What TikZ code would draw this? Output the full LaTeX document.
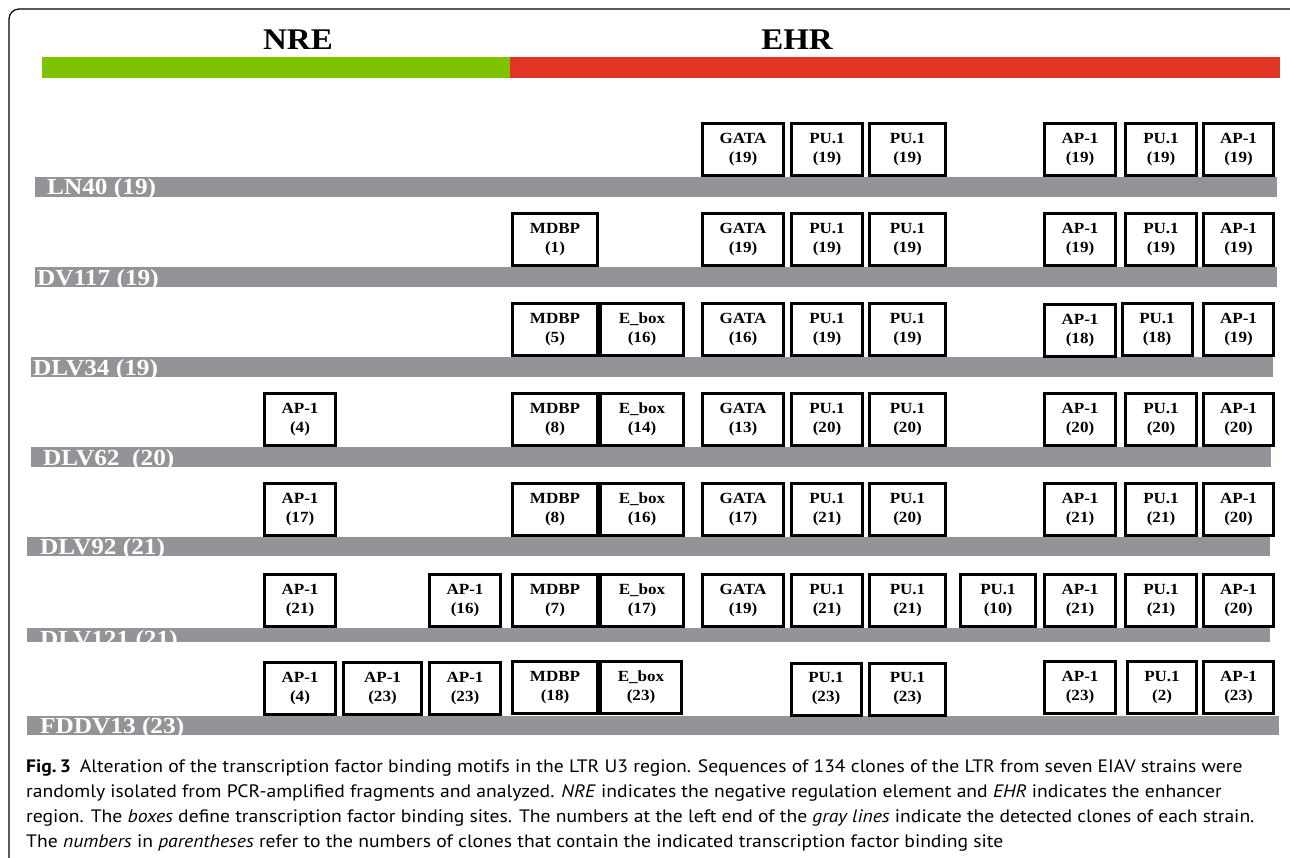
\documentclass[tikz,border=0pt]{standalone}
\usepackage{fontspec}
\usepackage{tikz}
\newfontfamily\figfont[FakeStretch=1.1]{Liberation Serif}
\newfontfamily\capfont[FakeStretch=1.09]{PT Sans}
\definecolor{nregreen}{RGB}{126,195,0}
\definecolor{ehrred}{RGB}{224,53,36}
\definecolor{strainbar}{RGB}{149,147,152}

\begin{document}
\begin{tikzpicture}[x=1pt,y=-1pt,
  site/.style={draw=black,line width=3pt,fill=white,inner sep=0pt,minimum height=52pt,align=center,
    font=\figfont\bfseries\fontsize{15.5}{19}\selectfont},
  strain/.style={text=white,inner sep=0pt,anchor=base west,font=\figfont\bfseries\fontsize{23}{23}\selectfont},
  region/.style={inner sep=0pt,anchor=base,font=\figfont\bfseries\fontsize{30}{30}\selectfont},
  capline/.style={inner sep=0pt,anchor=base west,font=\capfont\fontsize{18}{22}\selectfont}]
\useasboundingbox (0,0) rectangle (1290,858);
% frame
\draw [black,line width=1.2pt,rounded corners=10pt] (9,858) -- (9,9) -- (1290,9);
% regions
\node[region] (nre) at (298,50) {NRE};
\node[region] (ehr) at (797,50) {EHR};
\fill [nregreen] (42,57) rectangle (510,78);
\fill [ehrred] (510,57) rectangle (1280,78);
% strain lines
\fill [strainbar] (35,177) rectangle (1277,197);
\fill [strainbar] (35,267) rectangle (1277,287);
\fill [strainbar] (31,357) rectangle (1273,377);
\fill [strainbar] (31,447) rectangle (1271,467);
\fill [strainbar] (27,537) rectangle (1270,556);
\fill [strainbar] (27,628) rectangle (1270,642);
\fill [strainbar] (27,716) rectangle (1279,735);
\node[strain] (ln40) at (47,195) {LN40 (19)};
\node[strain] (dv117) at (37,286) {DV117 (19)};
\node[strain] (dlv34) at (33,375) {DLV34 (19)};
\node[strain] (dlv62) at (43,465) {DLV62\ \ (20)};
\node[strain] (dlv92) at (40,554) {DLV92 (21)};
\begin{scope}
\clip (27,628) rectangle (1270,642);
\node[strain] (dlv121) at (40,646) {DLV121 (21)};
\end{scope}
\node[strain] (fddv13) at (40,733) {FDDV13 (23)};
% LN40
\node[site,minimum width=81pt] (ln40gata) at (743,149.5) {GATA\\(19)};
\node[site,minimum width=71pt] (ln40pua) at (827,149.5) {PU.1\\(19)};
\node[site,minimum width=76pt] (ln40pub) at (907.5,149.5) {PU.1\\(19)};
\node[site,minimum width=71pt] (ln40apa) at (1080,149.5) {AP-1\\(19)};
\node[site,minimum width=71pt] (ln40puc) at (1161,149.5) {PU.1\\(19)};
\node[site,minimum width=70pt] (ln40apb) at (1238.5,149.5) {AP-1\\(19)};
% DV117
\node[site,minimum width=85pt] (dv117mdbp) at (555,239.5) {MDBP\\(1)};
\node[site,minimum width=81pt] (dv117gata) at (743,239.5) {GATA\\(19)};
\node[site,minimum width=71pt] (dv117pua) at (827,239.5) {PU.1\\(19)};
\node[site,minimum width=76pt] (dv117pub) at (907.5,239.5) {PU.1\\(19)};
\node[site,minimum width=71pt] (dv117apa) at (1080,239.5) {AP-1\\(19)};
\node[site,minimum width=71pt] (dv117puc) at (1161,239.5) {PU.1\\(19)};
\node[site,minimum width=70pt] (dv117apb) at (1238.5,239.5) {AP-1\\(19)};
% DLV34
\node[site,minimum width=85pt] (dlv34mdbp) at (555,329.5) {MDBP\\(5)};
\node[site,minimum width=83pt] (dlv34ebox) at (642,329.5) {E\_box\\(16)};
\node[site,minimum width=81pt] (dlv34gata) at (743,329.5) {GATA\\(16)};
\node[site,minimum width=71pt] (dlv34pua) at (827,329.5) {PU.1\\(19)};
\node[site,minimum width=76pt] (dlv34pub) at (907.5,329.5) {PU.1\\(19)};
\node[site,minimum width=71pt] (dlv34apa) at (1080,331) {AP-1\\(18)};
\node[site,minimum width=70pt] (dlv34puc) at (1157,329.5) {PU.1\\(18)};
\node[site,minimum width=70pt] (dlv34apb) at (1238.5,329.5) {AP-1\\(19)};
% DLV62
\node[site,minimum width=71pt] (dlv62apa) at (300,419.5) {AP-1\\(4)};
\node[site,minimum width=85pt] (dlv62mdbp) at (555,419.5) {MDBP\\(8)};
\node[site,minimum width=83pt] (dlv62ebox) at (642,419.5) {E\_box\\(14)};
\node[site,minimum width=81pt] (dlv62gata) at (743,419.5) {GATA\\(13)};
\node[site,minimum width=71pt] (dlv62pua) at (827,419.5) {PU.1\\(20)};
\node[site,minimum width=76pt] (dlv62pub) at (907.5,419.5) {PU.1\\(20)};
\node[site,minimum width=71pt] (dlv62apb) at (1080,419.5) {AP-1\\(20)};
\node[site,minimum width=71pt] (dlv62puc) at (1161,419.5) {PU.1\\(20)};
\node[site,minimum width=70pt] (dlv62apc) at (1238.5,419.5) {AP-1\\(20)};
% DLV92
\node[site,minimum width=71pt] (dlv92apa) at (300,509.5) {AP-1\\(17)};
\node[site,minimum width=85pt] (dlv92mdbp) at (555,509.5) {MDBP\\(8)};
\node[site,minimum width=83pt] (dlv92ebox) at (642,509.5) {E\_box\\(16)};
\node[site,minimum width=81pt] (dlv92gata) at (743,509.5) {GATA\\(17)};
\node[site,minimum width=71pt] (dlv92pua) at (827,509.5) {PU.1\\(21)};
\node[site,minimum width=76pt] (dlv92pub) at (907.5,509.5) {PU.1\\(20)};
\node[site,minimum width=71pt] (dlv92apb) at (1080,509.5) {AP-1\\(21)};
\node[site,minimum width=71pt] (dlv92puc) at (1161,509.5) {PU.1\\(21)};
\node[site,minimum width=70pt] (dlv92apc) at (1238.5,509.5) {AP-1\\(20)};
% DLV121
\node[site,minimum width=71pt] (dlv121apa) at (300,600.5) {AP-1\\(21)};
\node[site,minimum width=71pt] (dlv121apb) at (465,600.5) {AP-1\\(16)};
\node[site,minimum width=85pt] (dlv121mdbp) at (555,600.5) {MDBP\\(7)};
\node[site,minimum width=83pt] (dlv121ebox) at (642,600.5) {E\_box\\(17)};
\node[site,minimum width=81pt] (dlv121gata) at (743,600.5) {GATA\\(19)};
\node[site,minimum width=71pt] (dlv121pua) at (827,600.5) {PU.1\\(21)};
\node[site,minimum width=76pt] (dlv121pub) at (907.5,600.5) {PU.1\\(21)};
\node[site,minimum width=75pt] (dlv121puc) at (998,600.5) {PU.1\\(10)};
\node[site,minimum width=71pt] (dlv121apc) at (1080,600.5) {AP-1\\(21)};
\node[site,minimum width=71pt] (dlv121pud) at (1161,600.5) {PU.1\\(21)};
\node[site,minimum width=70pt] (dlv121apd) at (1238.5,600.5) {AP-1\\(20)};
% FDDV13
\node[site,minimum width=71pt] (fddv13apa) at (300,688.5) {AP-1\\(4)};
\node[site,minimum width=78pt] (fddv13apb) at (382.5,688.5) {AP-1\\(23)};
\node[site,minimum width=71pt] (fddv13apc) at (465,688.5) {AP-1\\(23)};
\node[site,minimum width=85pt] (fddv13mdbp) at (555,687.5) {MDBP\\(18)};
\node[site,minimum width=81pt] (fddv13ebox) at (641,687.5) {E\_box\\(23)};
\node[site,minimum width=70pt] (fddv13pua) at (826,689) {PU.1\\(23)};
\node[site,minimum width=76pt] (fddv13pub) at (907.5,689) {PU.1\\(23)};
\node[site,minimum width=71pt] (fddv13apd) at (1080,687.5) {AP-1\\(23)};
\node[site,minimum width=69pt] (fddv13puc) at (1162,687.5) {PU.1\\(2)};
\node[site,minimum width=70pt] (fddv13ape) at (1238.5,687.5) {AP-1\\(23)};
% caption
\node[capline] (cap1) at (26,772) {\textbf{Fig.\,3}\hspace{9pt}Alteration of the transcription factor binding motifs in the LTR U3 region. Sequences of 134 clones of the LTR from seven EIAV strains were};
\node[capline] (cap2) at (26,797) {randomly isolated from PCR-amplified fragments and analyzed. \textit{NRE} indicates the negative regulation element and \textit{EHR} indicates the enhancer};
\node[capline] (cap3) at (26,822) {region. The \textit{boxes} define transcription factor binding sites. The numbers at the left end of the \textit{gray lines} indicate the detected clones of each strain.};
\node[capline] (cap4) at (26,847) {The \textit{numbers} in \textit{parentheses} refer to the numbers of clones that contain the indicated transcription factor binding site};
\end{tikzpicture}
\end{document}
